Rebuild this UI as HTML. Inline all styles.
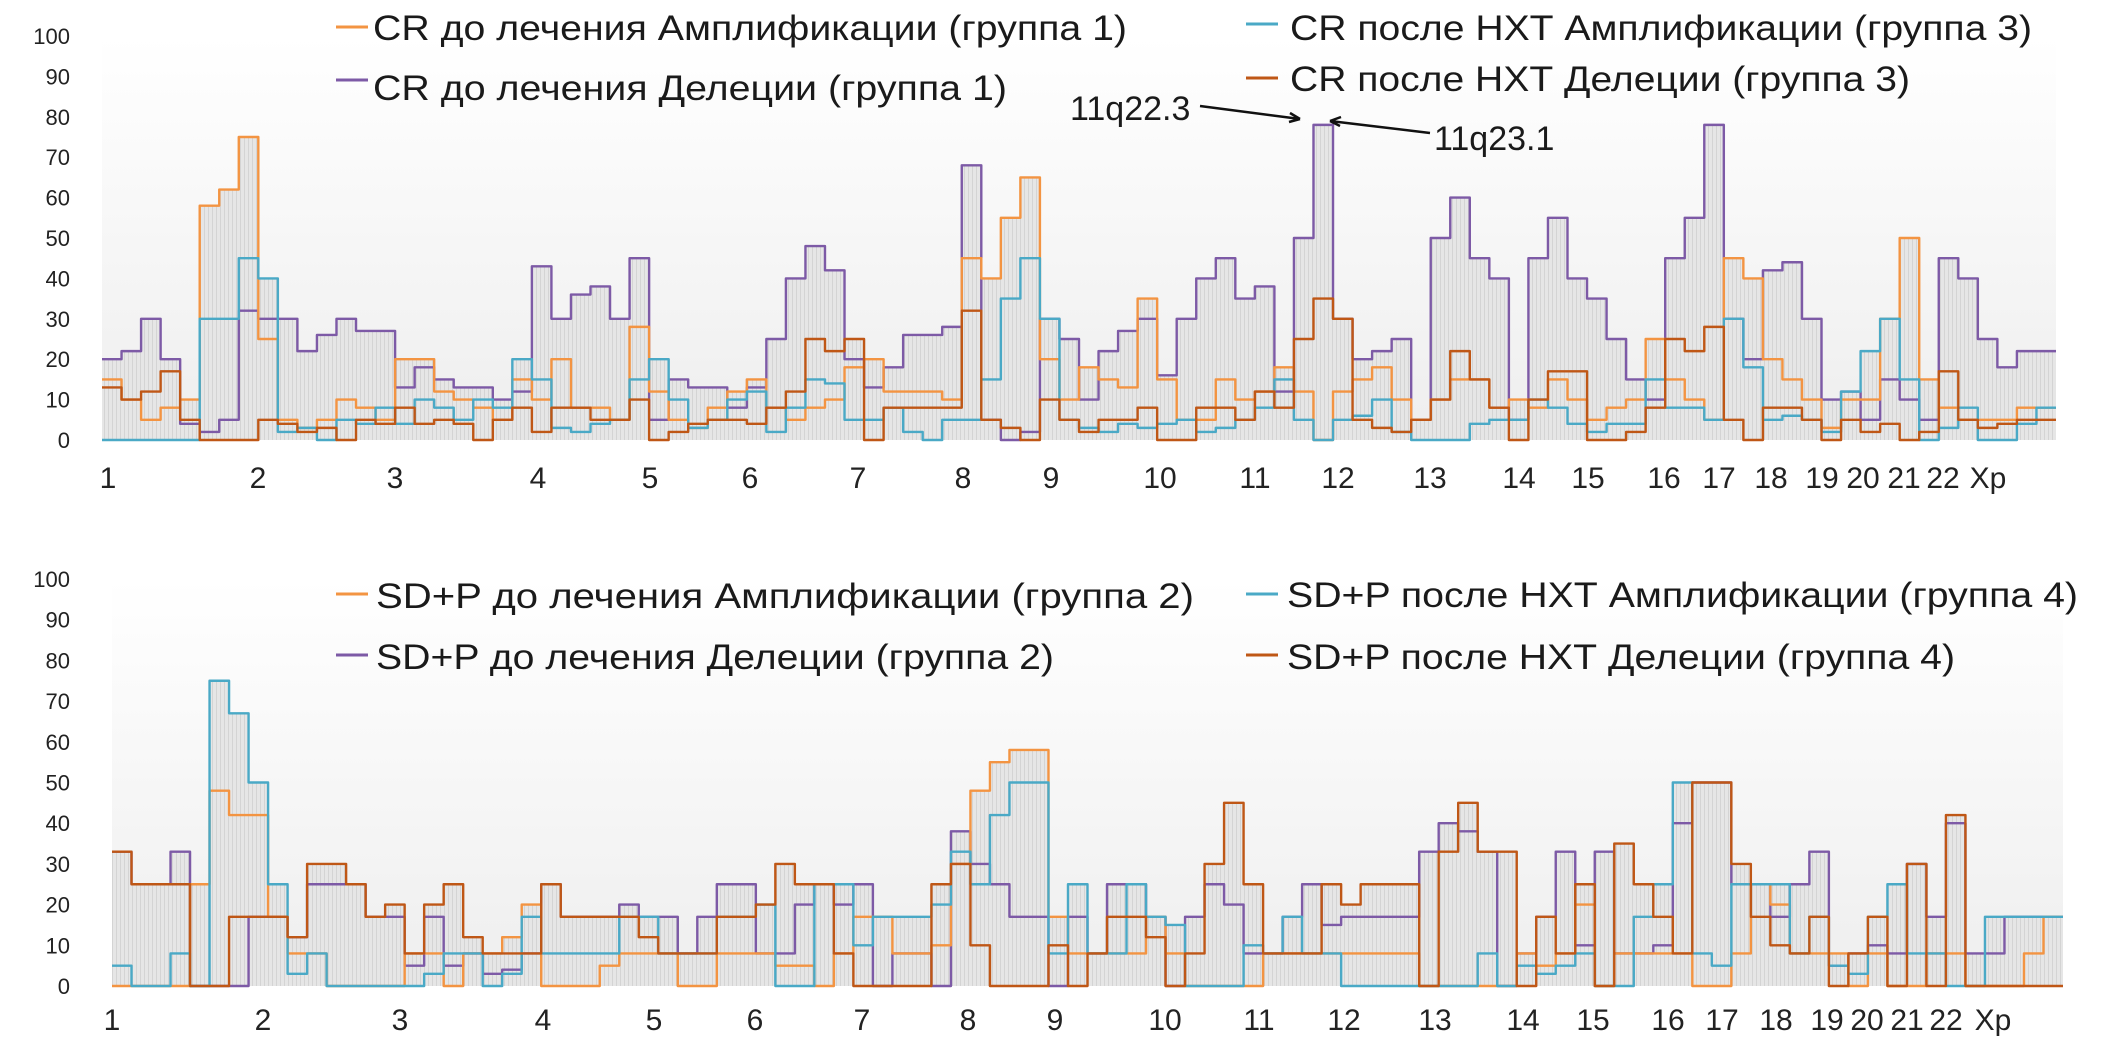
<!DOCTYPE html>
<html><head><meta charset="utf-8">
<style>
html,body{margin:0;padding:0;background:#fff;}
svg{display:block;font-family:"Liberation Sans","DejaVu Sans",sans-serif;}
</style></head>
<body>
<svg id="chart" width="2126" height="1040" viewBox="0 0 2126 1040" xmlns="http://www.w3.org/2000/svg">
<defs>
<linearGradient id="bg" x1="0" y1="0" x2="0" y2="1">
<stop offset="0" stop-color="#ffffff"/><stop offset="1" stop-color="#eeeeee"/>
</linearGradient>
<pattern id="stripes" width="4" height="10" patternUnits="userSpaceOnUse">
<rect width="4" height="10" fill="#e6e6e6"/><rect width="1" height="10" fill="#d4d4d4"/>
</pattern>
</defs>
<g id="topChart"></g>
<g id="bottomChart"></g>
</svg>
<script>
// ---- Data: top chart (CR) ----
const chromosomes = ["1","2","3","4","5","6","7","8","9","10","11","12","13","14","15","16","17","18","19","20","21","22","Xp"];
const yTicks = [0,10,20,30,40,50,60,70,80,90,100];
const crAmpBefore = [15,10,5,8,10,58,62,75,25,5,3,5,10,8,5,20,20,12,10,8,5,15,10,20,8,8,5,28,12,5,3,8,12,15,8,5,8,10,18,20,12,12,12,10,45,40,55,65,20,10,18,15,13,35,15,5,5,15,10,12,18,12,0,12,15,18,10,5,10,15,15,8,10,8,15,10,5,8,10,25,15,10,5,45,40,20,15,10,3,10,10,30,50,15,8,5,5,5,8,8];
const crDelBefore = [20,22,30,20,4,2,5,32,30,30,22,26,30,27,27,13,18,15,13,13,10,12,43,30,36,38,30,45,5,15,13,13,8,13,25,40,48,42,20,13,18,26,26,28,68,5,0,2,30,25,10,22,27,30,16,30,40,45,35,38,12,50,78,30,20,22,25,5,50,60,45,40,5,45,55,40,35,25,15,10,45,55,78,30,20,42,44,30,10,12,5,15,10,5,45,40,25,18,22,22];
const crAmpAfter = [0,0,0,0,0,30,30,45,40,2,3,0,5,4,8,4,10,8,5,10,8,20,15,3,2,4,5,15,20,10,3,5,10,12,2,8,15,14,5,5,8,2,0,5,5,15,35,45,30,5,3,2,4,3,4,5,2,3,5,8,15,5,0,5,6,10,2,0,0,0,4,5,5,10,8,4,2,4,4,15,8,8,5,30,18,5,6,5,2,12,22,30,15,0,3,8,0,0,4,8];
const crDelAfter = [13,10,12,17,5,0,0,0,5,4,2,3,0,5,4,8,4,5,4,0,5,8,2,8,8,5,5,10,0,2,4,5,5,4,8,12,25,22,25,0,8,8,8,8,32,5,3,0,10,5,2,5,5,8,0,0,8,8,5,12,8,25,35,30,5,3,2,5,10,22,15,8,0,10,17,17,0,0,2,8,25,22,28,5,0,8,8,5,0,5,2,4,0,2,17,5,3,4,5,5];
const crLabelX = [108,258,395,538,650,750,858,963,1051,1160,1255,1338,1430,1519,1588,1664,1719,1771,1822,1863,1904,1943,1988];
// ---- Data: bottom chart (SD+P) ----
const sdpAmpBefore = [0,0,0,0,25,48,42,42,17,8,8,0,0,0,0,8,8,0,8,8,12,20,0,0,0,5,8,8,8,0,0,8,8,8,5,5,0,8,17,17,8,8,10,30,48,55,58,58,17,8,8,8,8,17,8,0,0,0,0,8,8,8,8,8,8,8,8,0,0,0,0,0,8,5,8,20,0,8,8,8,8,0,0,8,25,20,8,8,8,0,8,0,0,8,8,0,0,0,8,17];
const sdpDelBefore = [33,25,25,33,0,0,0,17,17,12,25,25,25,17,17,5,17,5,8,3,4,8,25,17,17,17,20,17,17,8,17,25,25,8,8,20,25,20,25,0,8,8,0,38,30,25,17,17,0,17,8,25,25,17,0,17,25,20,8,8,17,25,15,17,17,17,17,33,40,38,33,0,8,17,33,10,33,8,8,10,40,50,50,25,25,17,25,33,5,8,10,8,30,17,40,8,8,17,17,17];
const sdpAmpAfter = [5,0,0,8,0,75,67,50,25,3,8,0,0,0,0,0,3,8,8,0,3,17,8,8,8,8,17,17,8,8,8,17,17,20,0,0,25,25,10,17,17,17,20,33,25,42,50,50,8,25,8,8,25,17,15,0,0,0,10,8,17,8,8,0,0,0,0,0,0,0,8,0,5,3,5,8,0,0,17,25,50,8,5,25,25,25,8,17,5,3,17,25,8,8,0,0,17,17,17,17];
const sdpDelAfter = [33,25,25,25,0,0,17,17,17,12,30,30,25,17,20,8,20,25,12,8,8,8,25,17,17,17,17,12,8,8,8,17,17,20,30,25,25,8,0,0,0,0,25,30,10,0,0,0,10,0,8,17,17,12,0,8,30,45,25,8,8,8,25,20,25,25,25,0,33,45,33,33,0,17,8,25,0,35,25,17,8,50,50,30,17,10,8,17,0,8,17,0,30,0,42,0,0,0,0,0];
const sdpLabelX = [112,263,400,543,654,755,862,968,1055,1165,1259,1344,1435,1523,1593,1668,1722,1776,1827,1867,1907,1946,1993];

const NS = "http://www.w3.org/2000/svg";
const colors = {amp:"#f39442", del:"#7d5aa6", ampAfter:"#4aa9c6", delAfter:"#bf5716"};
function mk(tag, attrs, parent){const e=document.createElementNS(NS,tag);for(const k in attrs)e.setAttribute(k,attrs[k]);parent.appendChild(e);return e;}

function drawChart(g, cfg){
  const {left,right,y0,y100,series,labelX,labelY,legend} = cfg;
  const n = series[0].vals.length;
  const xs = i => left + (right-left)*i/n;
  const ys = v => y0 - (y0-y100)*v/100;
  const bg = mk("rect",{x:left,y:ys(100),width:right-left,height:y0-ys(100),fill:"url(#bg)"},g);
  
  
  let d = "M"+xs(0)+","+y0;
  for(let i=0;i<n;i++){const m=Math.max(...series.map(s=>s.vals[i]));d+=" L"+xs(i)+","+ys(m)+" L"+xs(i+1)+","+ys(m);}
  d+=" L"+xs(n)+","+y0+" Z";
  const env = mk("path",{d:d,fill:"url(#stripes)",stroke:"none"},g);
  
  
  series.forEach(s=>{
    let p="";
    for(let i=0;i<n;i++){p+=(i?" L":"M")+xs(i)+","+ys(s.vals[i])+" L"+xs(i+1)+","+ys(s.vals[i]);}
    const pl = mk("path",{d:p,fill:"none",stroke:s.color,"stroke-width":2.4,"stroke-linejoin":"round"},g);
    
    
  });
  yTicks.forEach(v=>{
    const t = mk("text",{x:70,y:ys(v)+8,"text-anchor":"end","font-size":22,fill:"#222"},g);
    t.textContent = v;
    
    
  });
  chromosomes.forEach((c,i)=>{
    const t = mk("text",{x:labelX[i],y:labelY,"text-anchor":"middle","font-size":30,fill:"#222"},g);
    t.textContent = c;
    
    
  });
  legend.forEach(L=>{
    const ln = mk("line",{x1:L.lx,x2:L.lx+32,y1:L.ly,y2:L.ly,stroke:L.color,"stroke-width":3},g);
    
    
    const t = mk("text",{x:L.tx,y:L.ty,"font-size":35,fill:"#1a1a1a",textLength:L.w,lengthAdjust:"spacingAndGlyphs"},g);
    t.textContent = L.text;
    
    
  });
}

drawChart(document.getElementById("topChart"),{
  left:102,right:2056,y0:440,y100:36,labelX:crLabelX,labelY:488,
  series:[
    {name:"line-cr-deletion-before",vals:crDelBefore,color:colors.del},
    {name:"line-cr-amplification-before",vals:crAmpBefore,color:colors.amp},
    {name:"line-cr-amplification-after",vals:crAmpAfter,color:colors.ampAfter},
    {name:"line-cr-deletion-after",vals:crDelAfter,color:colors.delAfter}],
  legend:[
    {lx:336,ly:27,tx:373,ty:40,w:754,color:colors.amp,text:"CR до лечения Амплификации (группа 1)"},
    {lx:336,ly:80,tx:373,ty:100,w:634,color:colors.del,text:"CR до лечения Делеции (группа 1)"},
    {lx:1246,ly:24,tx:1290,ty:40,w:742,color:colors.ampAfter,text:"CR после НХТ Амплификации (группа 3)"},
    {lx:1246,ly:78,tx:1290,ty:91,w:620,color:colors.delAfter,text:"CR после НХТ Делеции (группа 3)"}]
});
drawChart(document.getElementById("bottomChart"),{
  left:112,right:2063,y0:986,y100:579,labelX:sdpLabelX,labelY:1030,
  series:[
    {name:"line-sdp-deletion-before",vals:sdpDelBefore,color:colors.del},
    {name:"line-sdp-amplification-before",vals:sdpAmpBefore,color:colors.amp},
    {name:"line-sdp-amplification-after",vals:sdpAmpAfter,color:colors.ampAfter},
    {name:"line-sdp-deletion-after",vals:sdpDelAfter,color:colors.delAfter}],
  legend:[
    {lx:336,ly:594,tx:376,ty:608,w:818,color:colors.amp,text:"SD+P до лечения Амплификации (группа 2)"},
    {lx:336,ly:655,tx:376,ty:669,w:678,color:colors.del,text:"SD+P до лечения Делеции (группа 2)"},
    {lx:1246,ly:594,tx:1287,ty:607,w:791,color:colors.ampAfter,text:"SD+P после НХТ Амплификации (группа 4)"},
    {lx:1246,ly:655,tx:1287,ty:669,w:668,color:colors.delAfter,text:"SD+P после НХТ Делеции (группа 4)"}]
});

const topG = document.getElementById("topChart");
const a1 = mk("text",{x:1070,y:120,"font-size":34,fill:"#1a1a1a"},topG);
a1.textContent="11q22.3";


const a2 = mk("text",{x:1434,y:150,"font-size":34,fill:"#1a1a1a"},topG);
a2.textContent="11q23.1";


const ar1 = mk("path",{d:"M1200,106 L1300,119 M1300,119 L1290,113 M1300,119 L1289,122",stroke:"#111","stroke-width":2.5,fill:"none"},topG);


const ar2 = mk("path",{d:"M1430,133 L1330,121 M1330,121 L1341,117 M1330,121 L1340,126",stroke:"#111","stroke-width":2.5,fill:"none"},topG);


</script>
</body></html>
